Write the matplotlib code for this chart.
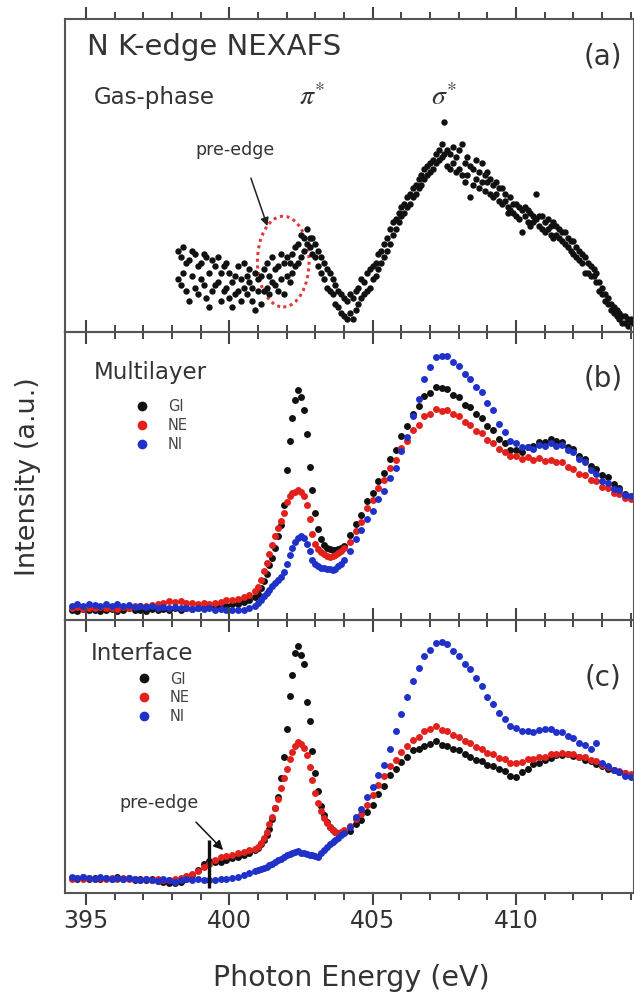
"""
N K-edge NEXAFS: gas-phase / multilayer / interface spectra (three stacked panels)
"""
import numpy as np
import matplotlib
matplotlib.use('Agg')
import matplotlib.pyplot as plt
from matplotlib.patches import Ellipse

plt.rcParams['font.family'] = ['DejaVu Sans']

# ---------------- data (intensities in a.u. 0..1 per panel) ----------------
E_GAS = [
    398.2, 398.3, 398.4, 398.5, 398.6, 398.7, 398.8, 398.9, 399.0, 399.1,
    399.2, 399.3, 399.4, 399.5, 399.6, 399.7, 399.8, 399.9, 400.0, 400.1,
    400.2, 400.3, 400.4, 400.5, 400.6, 400.7, 400.8, 400.9, 401.0, 401.1,
    401.2, 401.3, 401.4, 401.5, 401.6, 401.7, 401.8, 401.9, 402.0, 402.1,
    402.2, 402.3, 402.4, 402.5, 402.6, 402.7, 402.8, 402.9, 403.0, 403.1,
    403.2, 403.3, 403.4, 403.5, 403.6, 403.7, 403.8, 403.9, 404.0, 404.1,
    404.2, 404.3, 404.4, 404.5, 404.6, 404.7, 404.8, 404.9, 405.0, 405.1,
    405.2, 405.3, 405.4, 405.5, 405.6, 405.7, 405.8, 405.9, 406.0, 406.1,
    406.2, 406.3, 406.4, 406.5, 406.6, 406.7, 406.8, 406.9, 407.0, 407.1,
    407.2, 407.3, 407.4, 407.5, 407.6, 407.7, 407.8, 407.9, 408.0, 408.1,
    408.2, 408.3, 408.4, 408.5, 408.6, 408.7, 408.8, 408.9, 409.0, 409.1,
    409.2, 409.3, 409.4, 409.5, 409.6, 409.7, 409.8, 409.9, 410.0, 410.1,
    410.2, 410.3, 410.4, 410.5, 410.6, 410.7, 410.8, 410.9, 411.0, 411.1,
    411.2, 411.3, 411.4, 411.5, 411.6, 411.7, 411.8, 411.9, 412.0, 412.1,
    412.2, 412.3, 412.4, 412.5, 412.6, 412.7, 412.8, 412.9, 413.0, 413.1,
    413.2, 413.3, 413.4, 413.5, 413.6, 413.7, 413.8, 413.9, 414.0,
]
GAS_SCAN1 = [
    .26, .15, .27, .13, .23, .18, .25, .12, .22, .15,
    .24, .19, .13, .21, .16, .10, .21, .14, .19, .08,
    .18, .13, .17, .22, .12, .16, .10, .19, .13, .09,
    .20, .14, .18, .24, .15, .21, .17, .12, .24, .16,
    .25, .21, .28, .24, .30, .33, .27, .30, .24, .21,
    .19, .17, .14, .19, .12, .15, .08, .12, .05, .10,
    .06, .11, .07, .14, .11, .16, .13, .20, .17, .22,
    .20, .26, .24, .30, .28, .35, .33, .38, .37, .41,
    .40, .44, .43, .47, .46, .50, .49, .53, .51, .55,
    .54, .58, .56, .67, .58, .52, .59, .51, .58, .60,
    .54, .50, .53, .47, .55, .51, .54, .50, .51, .49,
    .47, .48, .42, .46, .42, .40, .43, .38, .37, .40,
    .32, .40, .35, .38, .37, .44, .34, .37, .35, .36,
    .34, .35, .34, .30, .32, .32, .27, .29, .29, .24,
    .26, .25, .19, .22, .18, .18, .16, .13, .12, .10,
    .09, .07, .08, .05, .04, .05, .03, .04, .03,
]
GAS_SCAN2 = [
    .17, .24, .19, .22, .10, .26, .14, .21, .17, .25,
    .11, .08, .23, .15, .24, .19, .13, .22, .11, .16,
    .12, .21, .10, .14, .18, .20, .14, .07, .17, .18,
    .13, .22, .12, .16, .20, .13, .25, .22, .18, .22,
    .19, .27, .22, .31, .26, .28, .30, .25, .28, .26,
    .24, .22, .20, .13, .17, .09, .13, .06, .11, .04,
    .12, .04, .13, .09, .17, .12, .19, .14, .21, .18,
    .25, .22, .28, .26, .33, .31, .36, .35, .40, .38,
    .43, .41, .46, .44, .49, .47, .52, .50, .54, .52,
    .57, .55, .60, .57, .53, .57, .54, .56, .52, .50,
    .48, .56, .43, .52, .49, .46, .48, .45, .48, .44,
    .43, .44, .46, .41, .44, .38, .39, .41, .41, .36,
    .39, .37, .39, .34, .35, .36, .37, .33, .32, .33,
    .31, .30, .31, .33, .29, .28, .30, .26, .25, .27,
    .23, .22, .24, .19, .21, .20, .19, .16, .14, .12,
    .11, .09, .06, .07, .06, .03, .05, .02, .04,
]

# thin-film spectra share one energy grid (finer step through the pi* resonance)
E_FILM = [
    394.5, 394.7, 394.9, 395.1, 395.3, 395.5, 395.7, 395.9, 396.1, 396.3,
    396.5, 396.7, 396.9, 397.1, 397.3, 397.5, 397.7, 397.9, 398.1, 398.3,
    398.5, 398.7, 398.9, 399.1, 399.3, 399.5, 399.7, 399.9, 400.1, 400.3,
    400.5, 400.7, 400.9,
    401.0, 401.1, 401.2, 401.3, 401.4, 401.5, 401.6, 401.7, 401.8, 401.9,
    402.0, 402.1, 402.2, 402.3, 402.4, 402.5, 402.6, 402.7, 402.8, 402.9,
    403.0, 403.1, 403.2, 403.3, 403.4, 403.5, 403.6, 403.7, 403.8, 403.9,
    404.0,
    404.2, 404.4, 404.6, 404.8, 405.0, 405.2, 405.4, 405.6, 405.8, 406.0,
    406.2, 406.4, 406.6, 406.8, 407.0, 407.2, 407.4, 407.6, 407.8, 408.0,
    408.2, 408.4, 408.6, 408.8, 409.0, 409.2, 409.4, 409.6, 409.8, 410.0,
    410.2, 410.4, 410.6, 410.8, 411.0, 411.2, 411.4, 411.6, 411.8, 412.0,
    412.2, 412.4, 412.6, 412.8, 413.0, 413.2, 413.4, 413.6, 413.8, 414.0,
]

# (b) multilayer
ML_GI = [
    0.035, 0.030, 0.038, 0.033, 0.036, 0.030, 0.034, 0.038, 0.032, 0.035,
    0.040, 0.033, 0.036, 0.031, 0.037, 0.034, 0.039, 0.035, 0.040, 0.036,
    0.042, 0.038, 0.043, 0.040, 0.046, 0.044, 0.050, 0.048, 0.054, 0.055,
    0.062, 0.068, 0.080,
    0.090, 0.110, 0.135, 0.160, 0.190, 0.215, 0.250, 0.290, 0.330, 0.400,
    0.520, 0.620, 0.700, 0.765, 0.800, 0.775, 0.730, 0.645, 0.530, 0.450,
    0.370, 0.315, 0.280, 0.262, 0.250, 0.245, 0.243, 0.242, 0.245, 0.250,
    0.258,
    0.295, 0.334, 0.366, 0.413, 0.441, 0.484, 0.511, 0.559, 0.592, 0.640,
    0.673, 0.716, 0.742, 0.779, 0.788, 0.808, 0.804, 0.803, 0.781, 0.774,
    0.748, 0.739, 0.714, 0.701, 0.673, 0.658, 0.627, 0.614, 0.592, 0.591,
    0.585, 0.599, 0.604, 0.619, 0.619, 0.628, 0.620, 0.619, 0.600, 0.593,
    0.569, 0.559, 0.534, 0.526, 0.503, 0.495, 0.471, 0.460, 0.436, 0.430,
]
ML_NE = [
    0.040, 0.045, 0.038, 0.042, 0.040, 0.046, 0.040, 0.043, 0.039, 0.045,
    0.042, 0.048, 0.050, 0.047, 0.052, 0.055, 0.060, 0.065, 0.062, 0.066,
    0.060, 0.058, 0.056, 0.058, 0.055, 0.060, 0.064, 0.068, 0.070, 0.074,
    0.080, 0.088, 0.100,
    0.116, 0.140, 0.170, 0.197, 0.230, 0.260, 0.290, 0.320, 0.345, 0.370,
    0.410, 0.430, 0.440, 0.445, 0.450, 0.445, 0.430, 0.400, 0.350, 0.300,
    0.265, 0.245, 0.235, 0.228, 0.222, 0.220, 0.222, 0.226, 0.232, 0.240,
    0.250,
    0.270, 0.308, 0.342, 0.388, 0.417, 0.458, 0.487, 0.528, 0.557, 0.598,
    0.622, 0.658, 0.677, 0.708, 0.717, 0.731, 0.727, 0.730, 0.715, 0.708,
    0.687, 0.678, 0.657, 0.648, 0.625, 0.615, 0.593, 0.585, 0.569, 0.568,
    0.560, 0.565, 0.557, 0.561, 0.553, 0.557, 0.549, 0.547, 0.532, 0.525,
    0.507, 0.503, 0.487, 0.481, 0.462, 0.458, 0.442, 0.437, 0.422, 0.420,
]
ML_NI = [
    0.050, 0.055, 0.050, 0.056, 0.052, 0.048, 0.054, 0.050, 0.055, 0.048,
    0.052, 0.046, 0.050, 0.045, 0.048, 0.043, 0.046, 0.042, 0.044, 0.040,
    0.043, 0.039, 0.041, 0.038, 0.040, 0.036, 0.038, 0.035, 0.036, 0.034,
    0.036, 0.040, 0.050,
    0.059, 0.070, 0.082, 0.094, 0.105, 0.117, 0.128, 0.138, 0.148, 0.165,
    0.195, 0.225, 0.250, 0.272, 0.285, 0.290, 0.285, 0.265, 0.240, 0.210,
    0.193, 0.186, 0.182, 0.180, 0.178, 0.176, 0.175, 0.178, 0.186, 0.196,
    0.210,
    0.240, 0.281, 0.311, 0.351, 0.380, 0.421, 0.449, 0.493, 0.527, 0.588,
    0.637, 0.708, 0.767, 0.836, 0.877, 0.913, 0.917, 0.918, 0.897, 0.883,
    0.855, 0.838, 0.809, 0.790, 0.754, 0.728, 0.682, 0.653, 0.622, 0.613,
    0.599, 0.601, 0.595, 0.606, 0.605, 0.613, 0.605, 0.607, 0.591, 0.583,
    0.559, 0.547, 0.521, 0.508, 0.483, 0.475, 0.455, 0.450, 0.434, 0.430,
]

# (c) interface
IF_GI = [
    0.055, 0.050, 0.058, 0.052, 0.056, 0.050, 0.055, 0.052, 0.057, 0.050,
    0.054, 0.049, 0.053, 0.047, 0.050, 0.045, 0.042, 0.038, 0.036, 0.042,
    0.050, 0.065, 0.085, 0.105, 0.118, 0.115, 0.115, 0.122, 0.128, 0.132,
    0.138, 0.147, 0.157,
    0.165, 0.178, 0.195, 0.212, 0.235, 0.270, 0.310, 0.350, 0.420, 0.500,
    0.600, 0.720, 0.800, 0.880, 0.905, 0.870, 0.840, 0.700, 0.630, 0.520,
    0.440, 0.375, 0.320, 0.285, 0.260, 0.243, 0.232, 0.222, 0.219, 0.220,
    0.222,
    0.228, 0.252, 0.268, 0.297, 0.323, 0.362, 0.393, 0.432, 0.453, 0.480,
    0.498, 0.522, 0.528, 0.540, 0.546, 0.557, 0.543, 0.537, 0.526, 0.522,
    0.508, 0.500, 0.488, 0.482, 0.470, 0.465, 0.453, 0.447, 0.430, 0.426,
    0.442, 0.453, 0.472, 0.478, 0.489, 0.493, 0.506, 0.505, 0.509, 0.501,
    0.499, 0.488, 0.484, 0.472, 0.466, 0.453, 0.452, 0.442, 0.440, 0.430,
]
IF_NE = [
    0.052, 0.056, 0.050, 0.054, 0.050, 0.055, 0.051, 0.056, 0.050, 0.054,
    0.050, 0.053, 0.048, 0.052, 0.047, 0.050, 0.046, 0.048, 0.050, 0.055,
    0.062, 0.070, 0.080, 0.095, 0.108, 0.122, 0.133, 0.137, 0.140, 0.145,
    0.151, 0.157, 0.163,
    0.170, 0.183, 0.200, 0.225, 0.252, 0.280, 0.310, 0.345, 0.385, 0.420,
    0.455, 0.490, 0.515, 0.537, 0.553, 0.545, 0.530, 0.505, 0.460, 0.414,
    0.365, 0.330, 0.300, 0.275, 0.255, 0.243, 0.232, 0.222, 0.220, 0.224,
    0.231,
    0.245, 0.270, 0.290, 0.322, 0.358, 0.397, 0.428, 0.464, 0.488, 0.517,
    0.538, 0.562, 0.573, 0.592, 0.600, 0.612, 0.598, 0.594, 0.578, 0.572,
    0.556, 0.548, 0.533, 0.526, 0.513, 0.508, 0.495, 0.490, 0.476, 0.477,
    0.480, 0.490, 0.491, 0.499, 0.498, 0.508, 0.508, 0.514, 0.510, 0.510,
    0.500, 0.498, 0.486, 0.482, 0.468, 0.462, 0.451, 0.448, 0.438, 0.437,
]
IF_NI = [
    0.058, 0.055, 0.060, 0.056, 0.053, 0.058, 0.054, 0.050, 0.055, 0.051,
    0.056, 0.052, 0.048, 0.053, 0.049, 0.045, 0.050, 0.046, 0.040, 0.046,
    0.050, 0.047, 0.052, 0.049, 0.046, 0.048, 0.050, 0.053, 0.056, 0.060,
    0.066, 0.072, 0.080,
    0.084, 0.088, 0.092, 0.097, 0.102, 0.108, 0.114, 0.120, 0.126, 0.133,
    0.139, 0.143, 0.148, 0.151, 0.153, 0.148, 0.145, 0.143, 0.140, 0.139,
    0.136, 0.133, 0.145, 0.158, 0.170, 0.178, 0.187, 0.195, 0.203, 0.211,
    0.219,
    0.243, 0.277, 0.308, 0.352, 0.388, 0.432, 0.468, 0.526, 0.595, 0.657,
    0.718, 0.777, 0.823, 0.868, 0.890, 0.914, 0.918, 0.912, 0.886, 0.868,
    0.840, 0.820, 0.788, 0.758, 0.718, 0.692, 0.658, 0.637, 0.613, 0.605,
    0.592, 0.592, 0.590, 0.598, 0.601, 0.600, 0.590, 0.588, 0.576, 0.568,
    0.551, 0.542, 0.528, 0.548, 0.476, 0.464, 0.449, 0.442, 0.430, 0.426,
]

LABELS = ['GI', 'NE', 'NI']
COLORS = ['#111111', '#e2201c', '#1f31c9']

MAJOR_TICKS = [395, 400, 405, 410]
MINOR_TICKS = [396, 397, 398, 399, 401, 402, 403, 404, 406, 407, 408, 409, 411, 412, 413, 414]

TEXT_COLOR = '#333333'
SPINE_COLOR = '#555555'


def style_axis(ax, show_labels):
    ax.set_facecolor('none')
    ax.set_yticks([])
    ax.set_xticks(MAJOR_TICKS)
    ax.set_xticks(MINOR_TICKS, minor=True)
    ax.set_xlim(394.27, 414.11)
    ax.set_ylim(0, 1)
    ax.tick_params(axis='x', which='both', direction='out', top=True, bottom=True,
                   color='#444444', labelsize=17, labelcolor=TEXT_COLOR,
                   labelbottom=show_labels, labeltop=False, pad=3)
    ax.tick_params(axis='x', which='major', length=8.5, width=1.5)
    ax.tick_params(axis='x', which='minor', length=5, width=1.4)
    for sp in ax.spines.values():
        sp.set_color(SPINE_COLOR)
        sp.set_linewidth(1.5)


def plot_film(ax, series, legend_anchor):
    for vals, lab, col in zip(series, LABELS, COLORS):
        ax.plot(E_FILM, vals, 'o', ms=5.0, color=col, mec='none', label=lab)
    ax.legend(loc='upper left', bbox_to_anchor=legend_anchor, frameon=False,
              fontsize=10.5, handlelength=1.0, handletextpad=1.28, labelspacing=0.25,
              borderpad=0, borderaxespad=0, numpoints=1, markerscale=7 / 5.0,
              labelcolor='#444444')


fig = plt.figure(figsize=(6.34, 10), dpi=100)
ax_a = fig.add_axes([0.1025, 0.668, 0.8975, 0.313])
ax_b = fig.add_axes([0.1025, 0.380, 0.8975, 0.288])
ax_c = fig.add_axes([0.1025, 0.107, 0.8975, 0.273])

style_axis(ax_a, False)
style_axis(ax_b, False)
style_axis(ax_c, True)

# --- (a) gas phase ---
ax_a.plot(E_GAS, GAS_SCAN1, 'o', ms=4.6, color='#111111', mec='none')
ax_a.plot(E_GAS, GAS_SCAN2, 'o', ms=4.6, color='#111111', mec='none')
ax_a.add_patch(Ellipse((401.88, 0.225), 1.8, 0.29, fill=False, edgecolor='#e03a40',
                       linestyle=(0, (1, 1.2)), linewidth=2.2))
ax_a.text(400.2, 0.58, 'pre-edge', ha='center', va='center', fontsize=12.5, color=TEXT_COLOR)
ax_a.annotate('', xy=(401.36, 0.33), xytext=(400.72, 0.50),
              arrowprops=dict(arrowstyle='-|>', color='#222222', lw=1.1, mutation_scale=12))
ax_a.text(0.039, 0.91, 'N K-edge NEXAFS', transform=ax_a.transAxes, ha='left', va='center',
          fontsize=21, color=TEXT_COLOR)
ax_a.text(0.945, 0.879, '(a)', transform=ax_a.transAxes, ha='center', va='center',
          fontsize=20, color=TEXT_COLOR)
ax_a.text(0.051, 0.75, 'Gas-phase', transform=ax_a.transAxes, ha='left', va='center',
          fontsize=16.5, color=TEXT_COLOR)
ax_a.text(402.9, 0.725, r'$\pi^{*}$', ha='center', va='baseline', fontsize=20,
          color=TEXT_COLOR, math_fontfamily='stix')
ax_a.text(407.5, 0.725, r'$\sigma^{*}$', ha='center', va='baseline', fontsize=20,
          color=TEXT_COLOR, math_fontfamily='stix')

# --- (b) multilayer ---
plot_film(ax_b, [ML_GI, ML_NE, ML_NI], (0.1225, 0.766))
ax_b.text(0.051, 0.858, 'Multilayer', transform=ax_b.transAxes, ha='left', va='center',
          fontsize=16.5, color=TEXT_COLOR)
ax_b.text(0.945, 0.84, '(b)', transform=ax_b.transAxes, ha='center', va='center',
          fontsize=20, color=TEXT_COLOR)

# --- (c) interface ---
plot_film(ax_c, [IF_GI, IF_NE, IF_NI], (0.126, 0.811))
ax_c.text(0.046, 0.879, 'Interface', transform=ax_c.transAxes, ha='left', va='center',
          fontsize=16.5, color=TEXT_COLOR)
ax_c.text(0.945, 0.791, '(c)', transform=ax_c.transAxes, ha='center', va='center',
          fontsize=20, color=TEXT_COLOR)
ax_c.text(397.55, 0.33, 'pre-edge', ha='center', va='center', fontsize=12.5, color=TEXT_COLOR)
ax_c.annotate('', xy=(399.85, 0.15), xytext=(398.77, 0.267),
              arrowprops=dict(arrowstyle='-|>', color='#111111', lw=1.1, mutation_scale=14))
ax_c.vlines(399.29, 0.018, 0.194, color='#111111', lw=2.4)

fig.text(0.044, 0.523, 'Intensity (a.u.)', rotation=90, ha='center', va='center',
         fontsize=19.5, color=TEXT_COLOR)
fig.text(0.554, 0.022, 'Photon Energy (eV)', ha='center', va='center',
         fontsize=20.5, color=TEXT_COLOR)

fig.savefig('out.png', dpi=100, facecolor='white')
plt.close(fig)
